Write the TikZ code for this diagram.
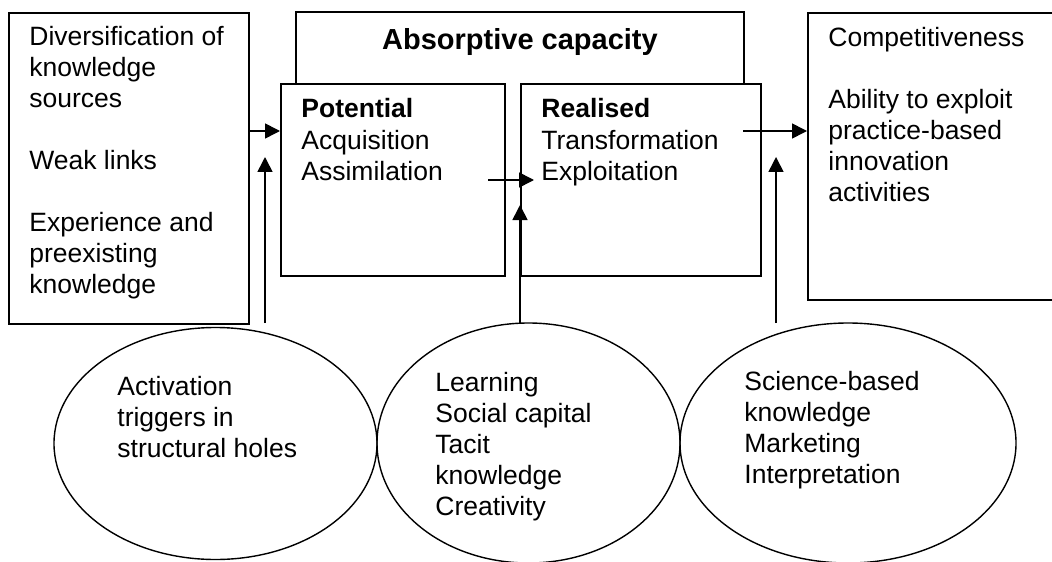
\documentclass[tikz,border=0pt]{standalone}
\usepackage{fontspec}
\setmainfont{Liberation Sans}
\usetikzlibrary{arrows.meta,shapes.geometric}

\begin{document}
\begin{tikzpicture}[x=0.5pt,y=-0.5pt,
  box/.style={draw,line width=1pt,inner sep=0pt,anchor=north west},
  oval/.style={draw,ellipse,line width=0.7pt,inner sep=0pt},
  txt/.style={anchor=base west,align=left,inner sep=0pt,font=\fontsize{13.25pt}{15.5pt}\selectfont},
  arr/.style={-{Triangle[length=7.5pt,width=7.5pt]},line width=0.8pt}]
\useasboundingbox (0,0) rectangle (1052,561);
\clip (0,0) rectangle (1052,561);

%viri znanja (text anchored at its last line)
\node[box,minimum width=120pt,minimum height=155.5pt] (src) at (8,12) {};
\node[txt] (srctxt) at (29,293) {Diversification of\\knowledge\\sources\\[15.5pt]Weak links\\[15.5pt]Experience and\\preexisting\\knowledge};

%absorpcijska sposobnost
\draw[line width=1pt] (296,83) |- (744,12) -- (744,83);
\node[anchor=base,inner sep=0pt,font=\fontsize{14.5pt}{17pt}\selectfont\bfseries] (absorp) at (520,50) {Absorptive capacity};

\node[box,fill=white,minimum width=112pt,minimum height=96pt] (pot) at (280,83) {};
\node[txt] (pottxt) at (301,180) {\textbf{Potential}\\Acquisition\\Assimilation};

\node[box,fill=white,minimum width=120pt,minimum height=96pt] (real) at (520,83) {};
\node[txt] (realtxt) at (541,180) {\textbf{Realised}\\Transformation\\Exploitation};

%konkurencnost
\node[box,minimum width=131.5pt,minimum height=143.5pt] (comp) at (807,12) {};
\node[txt] (comptxt) at (828,201) {Competitiveness\\[15.5pt]Ability to exploit\\practice-based\\innovation\\activities};

%elipse
\node[oval,minimum width=161.5pt,minimum height=116pt] (trig) at (215.5,443.5) {};
\node[txt] (trigtxt) at (117,457) {Activation\\triggers in\\structural holes};

\node[oval,minimum width=151.5pt,minimum height=120pt] (learn) at (528.5,443) {};
\node[txt] (learntxt) at (435,515) {Learning\\Social capital\\Tacit\\knowledge\\Creativity};

\node[oval,minimum width=168pt,minimum height=120pt] (sci) at (848,443) {};
\node[txt] (scitxt) at (744,483) {Science-based\\knowledge\\Marketing\\Interpretation};

%puscice
\coordinate (trigup) at (265,323);
\coordinate (trigend) at (265,157);
\coordinate (learnup) at (520,323);
\coordinate (learnend) at (520,205);
\coordinate (sciup) at (776,323);
\coordinate (sciend) at (776,157);
\coordinate (potout) at (488,180);
\coordinate (realin) at (534,180);
\coordinate (realout) at (743,131);

\draw[arr] (src.east |- 0,131) -- (pot.west |- 0,131);
\draw[arr] (potout) -- (realin);
\draw[arr] (realout) -- (comp.west |- realout);
\draw[arr] (trigup) -- (trigend);
\draw[arr] (learnup) -- (learnend);
\draw[arr] (sciup) -- (sciend);

\end{tikzpicture}
\end{document}
